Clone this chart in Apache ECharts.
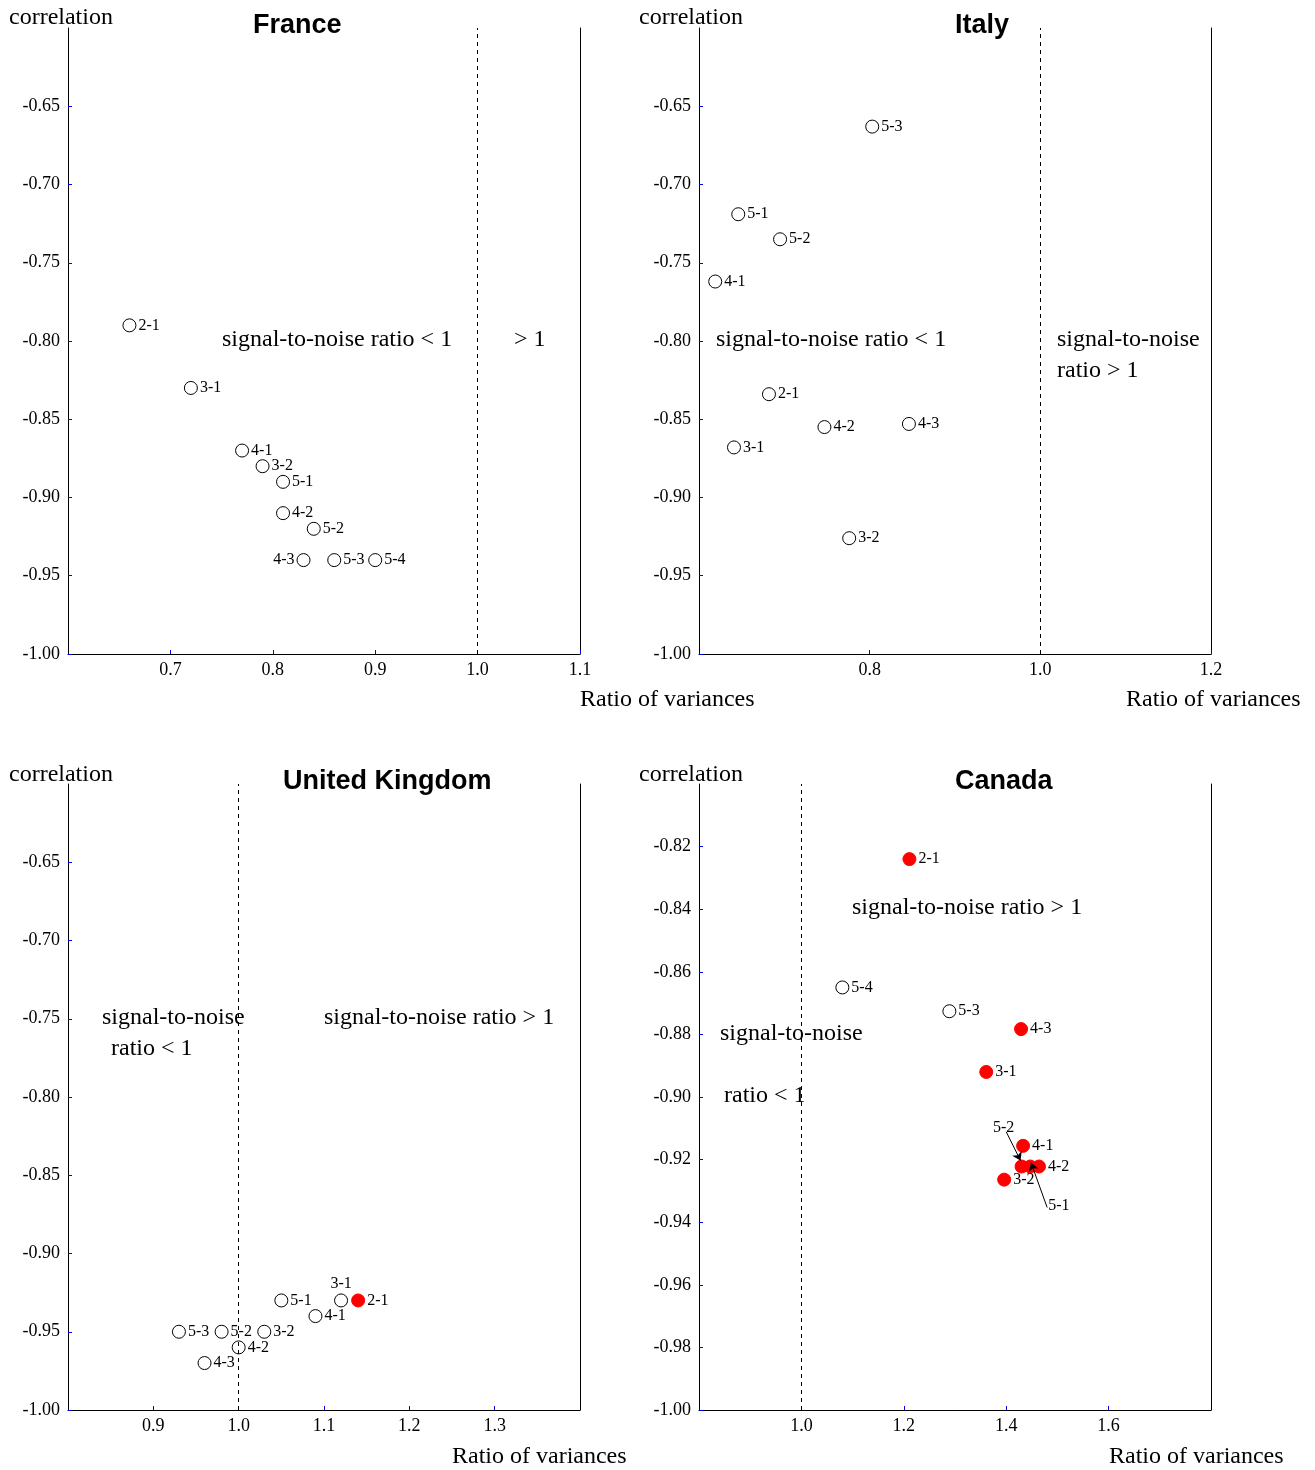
<!DOCTYPE html>
<html><head><meta charset="utf-8">
<script src="https://cdn.jsdelivr.net/npm/echarts@6/dist/echarts.min.js"></script>
<style>html,body{margin:0;padding:0;background:#fff}#c{width:1315px;height:1470px}</style>
</head><body><div id="c"></div><script>
// ---- data ----
const franceLabels = ['2-1','3-1','4-1','3-2','5-1','4-2','5-2','4-3','5-3','5-4'];
const franceRatio  = [0.66, 0.72, 0.77, 0.79, 0.81, 0.81, 0.84, 0.83, 0.86, 0.90];
const franceCorr   = [-0.79,-0.83,-0.87,-0.88,-0.89,-0.91,-0.92,-0.94,-0.94,-0.94];
const franceFilled = [0,0,0,0,0,0,0,0,0,0];
const franceLabelPos = ['right','right','right','right','right','right','right','left','right','right'];

const italyLabels = ['5-3','5-1','5-2','4-1','2-1','4-2','4-3','3-1','3-2'];
const italyRatio  = [0.803, 0.646, 0.695, 0.619, 0.682, 0.747, 0.846, 0.641, 0.776];
const italyCorr   = [-0.663,-0.719,-0.735,-0.762,-0.834,-0.855,-0.853,-0.868,-0.926];
const italyFilled = [0,0,0,0,0,0,0,0,0];
const italyLabelPos = ['right','right','right','right','right','right','right','right','right'];

const ukLabels = ['5-1','3-1','2-1','4-1','5-3','5-2','3-2','4-2','4-3'];
const ukRatio  = [1.05, 1.12, 1.14, 1.09, 0.93, 0.98, 1.03, 1.00, 0.96];
const ukCorr   = [-0.93,-0.93,-0.93,-0.94,-0.95,-0.95,-0.95,-0.96,-0.97];
const ukFilled = [0,0,1,0,0,0,0,0,0];
const ukLabelPos = ['right','top','right','right','right','right','right','right','right'];

const canadaLabels = ['2-1','5-4','5-3','4-3','3-1','4-1','5-2','5-1','4-2','3-2'];
const canadaRatio  = [1.211, 1.080, 1.289, 1.429, 1.361, 1.433, 1.430, 1.447, 1.464, 1.396];
const canadaCorr   = [-0.824,-0.865,-0.8726,-0.8783,-0.892,-0.9156,-0.9222,-0.9222,-0.9222,-0.9264];
const canadaFilled = [1,0,0,1,1,1,1,1,1,1];
const canadaLabelPos = ['right','right','right','right','right','right','none','none','right','right'];
// arrow annotations (Canada): label position, arrow start, arrow end (data units)
const canadaNoteText  = ['5-2','5-1'];
const canadaNoteLabel = [[1.395,-0.9098],[1.503,-0.9347]];
const canadaNoteFrom  = [[1.400,-0.9111],[1.480,-0.9353]];
const canadaNoteTo    = [[1.428,-0.9203],[1.4485,-0.9210]];

// axis ranges / ticks
const xRanges = [[0.6,1.1,0.1],[0.6,1.2,0.2],[0.8,1.4,0.1],[0.8,1.8,0.2]];
const yRanges = [[-1,-0.6,0.05],[-1,-0.6,0.05],[-1,-0.6,0.05],[-1,-0.8,0.02]];
const yDecimals = [2,2,2,2];
const threshold = 1.0;

// ---- layout ----
const grids = [
  {left:68, top:28, width:512, height:626},
  {left:699, top:28, width:512, height:626},
  {left:68, top:784, width:512, height:626},
  {left:699, top:784, width:512, height:626}
];
const SERIF = 'Liberation Serif';
const axisLine = {show:true, lineStyle:{color:'#000', width:1}};
const tick = {show:true, inside:true, length:4, lineStyle:{color:'#0000ff', width:1}};

const xAxes = [], yAxes = [];
xRanges.forEach((r,i)=>{
  xAxes.push({type:'value', gridIndex:i, min:r[0], max:r[1], interval:r[2],
    axisLine, axisTick:tick, splitLine:{show:false},
    axisLabel:{show:true, showMinLabel:false, showMaxLabel: i<2, margin:7,
      fontFamily:SERIF, fontSize:18, color:'#000', formatter:v=>v.toFixed(1)}});
});
yRanges.forEach((r,i)=>{
  yAxes.push({type:'value', gridIndex:i, min:r[0], max:r[1], interval:r[2],
    axisLine, axisTick:tick, splitLine:{show:false},
    axisLabel:{show:true, showMaxLabel:false, showMinLabel:true, margin:8,
      fontFamily:SERIF, fontSize:18, color:'#000', formatter:v=>v.toFixed(yDecimals[i])}});
  yAxes.push({type:'value', gridIndex:i, position:'right', min:r[0], max:r[1], interval:r[2],
    axisLine, axisTick:{show:false}, axisLabel:{show:false}, splitLine:{show:false}});
});

function pointSeries(i, labels, xs, ys, filled, pos){
  return {
    type:'scatter', xAxisIndex:i, yAxisIndex:i*2, symbol:'circle', symbolSize:13, z:3,
    data: labels.map((n,k)=>({
      name:n, value:[xs[k], ys[k]],
      itemStyle: filled[k] ? {color:'#ff0000', borderColor:'#ff0000', borderWidth:1, opacity:1}
                           : {color:'#ffffff', borderColor:'#000000', borderWidth:1, opacity:1},
      label: pos[k]==='none' ? {show:false} : {show:true, position:pos[k]}
    })),
    label:{show:true, formatter:'{b}', distance:2, fontFamily:SERIF, fontSize:16, color:'#000'},
    emphasis:{disabled:true},
    markLine:{silent:true, symbol:'none', animation:false,
      label:{show:false}, lineStyle:{color:'#000', type:[4,4], width:1},
      data:[{xAxis:threshold}]}
  };
}

const series = [
  pointSeries(0, franceLabels, franceRatio, franceCorr, franceFilled, franceLabelPos),
  pointSeries(1, italyLabels, italyRatio, italyCorr, italyFilled, italyLabelPos),
  pointSeries(2, ukLabels, ukRatio, ukCorr, ukFilled, ukLabelPos),
  pointSeries(3, canadaLabels, canadaRatio, canadaCorr, canadaFilled, canadaLabelPos),
  {
    type:'scatter', xAxisIndex:3, yAxisIndex:6, symbol:'circle', symbolSize:1, z:4,
    itemStyle:{color:'rgba(0,0,0,0)', opacity:1},
    data: canadaNoteText.map((t,k)=>({name:t, value:canadaNoteLabel[k]})),
    label:{show:true, position:'inside', formatter:'{b}', fontFamily:SERIF, fontSize:16,
      color:'#000', opacity:1, textBorderWidth:0},
    emphasis:{disabled:true},
    markLine:{silent:true, animation:false, symbol:['none','arrow'], symbolSize:8,
      label:{show:false}, lineStyle:{color:'#000', type:'solid', width:1, opacity:1},
      itemStyle:{color:'#000'},
      data: canadaNoteFrom.map((f,k)=>[{coord:f},{coord:canadaNoteTo[k]}])}
  }
];

function txt(left, top, text, size, bold, family){
  return {type:'text', left, top, silent:true,
    style:{text, fontFamily: family||SERIF, fontSize:size, fontWeight: bold?'bold':'normal', fill:'#000'}};
}
const graphic = [
  txt(253,12,'France',27,true,'Liberation Sans'),
  txt(955,12,'Italy',27,true,'Liberation Sans'),
  txt(283,768,'United Kingdom',27,true,'Liberation Sans'),
  txt(955,768,'Canada',27,true,'Liberation Sans'),
  txt(9,6,'correlation',24), txt(639,6,'correlation',24),
  txt(9,763,'correlation',24), txt(639,763,'correlation',24),
  txt(580,688,'Ratio of variances',24), txt(1126,688,'Ratio of variances',24),
  txt(452,1445,'Ratio of variances',24), txt(1109,1445,'Ratio of variances',24),
  txt(222,328,'signal-to-noise ratio < 1',24), txt(514,328,'> 1',24),
  txt(716,328,'signal-to-noise ratio < 1',24),
  txt(1057,328,'signal-to-noise',24), txt(1057,359,'ratio > 1',24),
  txt(102,1006,'signal-to-noise',24), txt(111,1037,'ratio < 1',24),
  txt(324,1006,'signal-to-noise ratio > 1',24),
  txt(852,896,'signal-to-noise ratio > 1',24),
  txt(720,1022,'signal-to-noise',24), txt(724,1084,'ratio < 1',24)
];

const chart = echarts.init(document.getElementById('c'), null, {renderer:'canvas'});
chart.setOption({animation:false, backgroundColor:'#fff', grid:grids, xAxis:xAxes, yAxis:yAxes, series, graphic});
</script></body></html>
